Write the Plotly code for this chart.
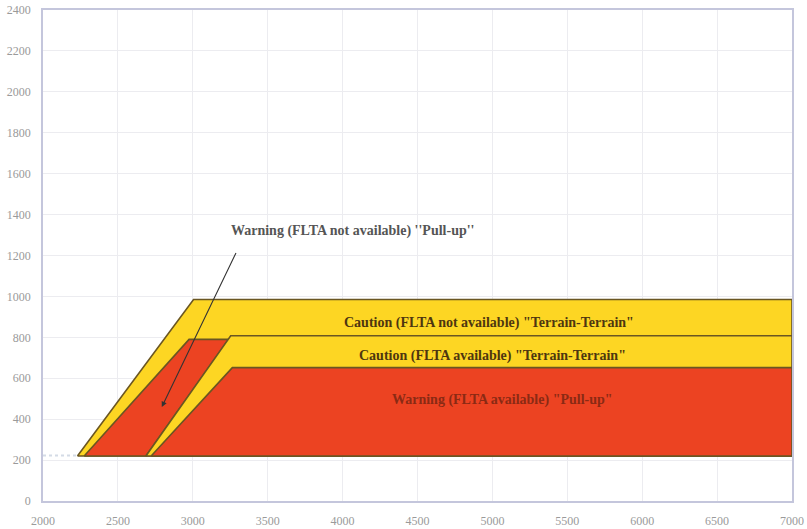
import plotly.graph_objects as go

# Envelope polygons (x = distance, y = height)
caution_na_x = [2230, 3005, 7000, 7000, 2230]
caution_na_y = [220, 985, 985, 220, 220]

warning_na_x = [2275, 2975, 3239, 2687, 2275]
warning_na_y = [220, 790, 790, 220, 220]

caution_av_x = [2687, 3253, 7000, 7000, 2687]
caution_av_y = [220, 808, 808, 220, 220]

warning_av_x = [2722, 3264, 7000, 7000, 2722]
warning_av_y = [220, 652, 652, 220, 220]

base_x = [2000, 2230]
base_y = [222, 222]

x_ticks = [2000, 2500, 3000, 3500, 4000, 4500, 5000, 5500, 6000, 6500, 7000]
y_ticks = [0, 200, 400, 600, 800, 1000, 1200, 1400, 1600, 1800, 2000, 2200, 2400]

YELLOW = "#FDD623"
RED = "#EC4322"
EDGE = "#6a5622"

fig = go.Figure()
fig.add_trace(go.Scatter(x=base_x, y=base_y, mode="lines",
                         line=dict(color="#d4dbe6", width=2, dash="dot"), hoverinfo="skip"))
for xs, ys, col in [(caution_na_x, caution_na_y, YELLOW),
                    (warning_na_x, warning_na_y, RED),
                    (caution_av_x, caution_av_y, YELLOW),
                    (warning_av_x, warning_av_y, RED)]:
    fig.add_trace(go.Scatter(x=xs, y=ys, mode="lines", fill="toself", fillcolor=col,
                             line=dict(color=EDGE, width=1.6), hoverinfo="skip"))

lab_font = dict(family="Liberation Serif", size=14, color="#4e3610")
fig.add_annotation(x=4980, y=872, text="<b>Caution (FLTA not available) \"Terrain-Terrain\"</b>",
                   showarrow=False, font=lab_font)
fig.add_annotation(x=5000, y=707, text="<b>Caution (FLTA available) \"Terrain-Terrain\"</b>",
                   showarrow=False, font=lab_font)
fig.add_annotation(x=5070, y=495, text="<b>Warning (FLTA available) \"Pull-up\"</b>",
                   showarrow=False, font=dict(family="Liberation Serif", size=14, color="#8a2a14"))
fig.add_annotation(x=4067, y=1318, text="<b>Warning (FLTA not available) ''Pull-up''</b>",
                   showarrow=False, font=dict(family="Liberation Serif", size=14, color="#555555"))
fig.add_annotation(x=2793, y=459, ax=3293, ay=1220, axref="x", ayref="y", text="",
                   showarrow=True, arrowhead=2, arrowsize=1, arrowwidth=1.1, arrowcolor="#333333")

axis_common = dict(showgrid=True, gridcolor="#ececf0", gridwidth=1, zeroline=False,
                   showline=True, linecolor="#c4c6dc", linewidth=1.5, mirror=True,
                   tickfont=dict(family="Liberation Serif", size=12, color="#9a9a9a"),
                   ticks="", automargin=False, ticklabeloverflow="allow")
fig.update_xaxes(range=[2000, 7000], tickvals=x_ticks, ticklabelstandoff=8, **axis_common)
fig.update_yaxes(range=[0, 2400], tickvals=y_ticks, ticklabelstandoff=8, **axis_common)

fig.update_layout(width=807, height=529, margin=dict(l=43, r=15, t=10, b=28),
                  plot_bgcolor="white", paper_bgcolor="white", showlegend=False)

# remove the default 8px page margin so the figure fills the window exactly
fig.write_html("out.html", config={"displayModeBar": False},
               post_script="document.body.style.margin='0';")
